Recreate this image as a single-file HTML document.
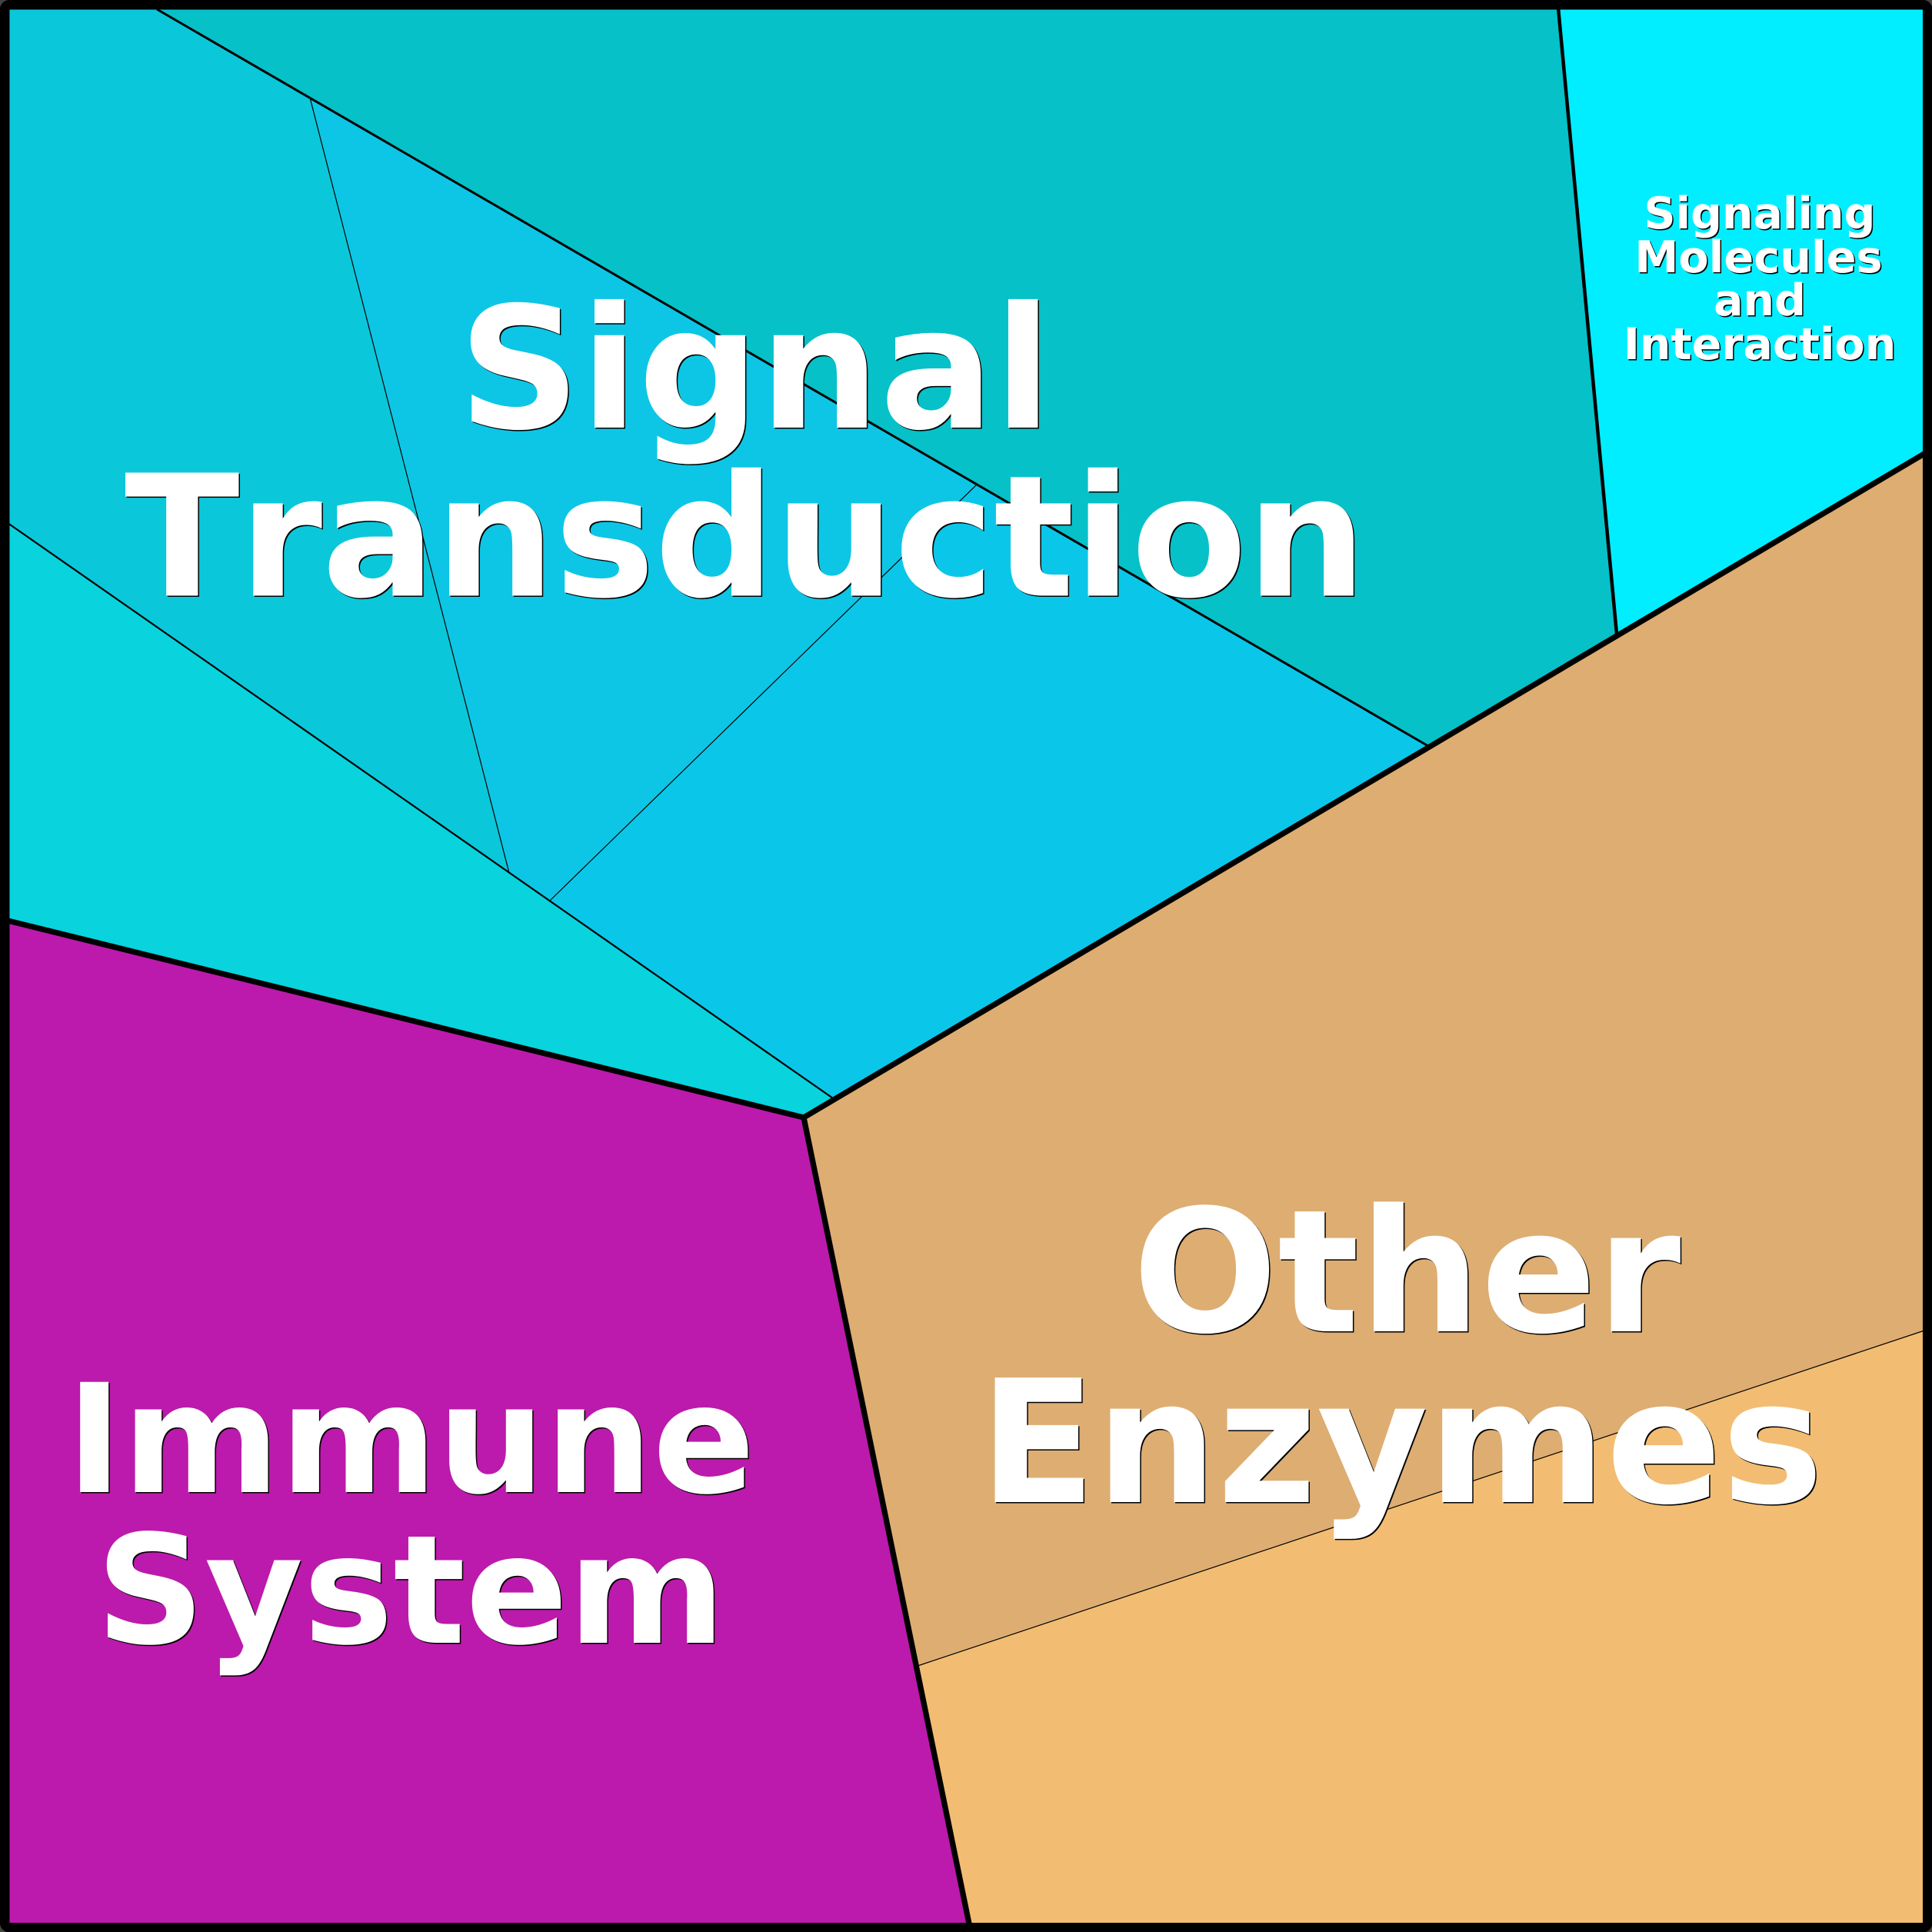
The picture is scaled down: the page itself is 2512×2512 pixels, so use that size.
<!DOCTYPE html>
<html><head><meta charset="utf-8"><style>html,body{margin:0;padding:0;background:#fff}svg{display:block}text{font-kerning:none}</style></head>
<body>
<svg xmlns="http://www.w3.org/2000/svg" width="2512" height="2512" viewBox="0 0 2512 2512">
<rect width="2512" height="2512" fill="#444"/>
<polygon points="12,12 204,12 403,127 662,1135 10,680" fill="#0bc7da"/>
<polygon points="204,12 2026,10 2102,824 1857,970" fill="#06c1c8"/>
<polygon points="403,127 1270,630 715,1171 662,1135" fill="#0dc6e5"/>
<polygon points="1270,630 1857,970 1083,1428 715,1171" fill="#0ac7e9"/>
<polygon points="10,680 1083,1428 1045,1453 10,1197" fill="#09d3dc"/>
<polygon points="2026,10 2502,10 2502,590 2102,824" fill="#00eeff"/>
<polygon points="10,1197 1045,1453 1261,2502 10,2502" fill="#bc1aac"/>
<polygon points="1045,1453 2502,590 2502,1730 1193,2166" fill="#ddad72"/>
<polygon points="1193,2166 2502,1730 2502,2502 1261,2502" fill="#f2bd72"/>
<g fill="none" stroke="#000" stroke-linecap="butt">
<path d="M204,12 L1857,970" stroke-width="3"/>
<path d="M2026,10 L2102,824" stroke-width="4.5"/>
<path d="M10,680 L1083,1428" stroke-width="2.2"/>
<path d="M403,127 L662,1135" stroke-width="1.2"/>
<path d="M1270,630 L715,1171" stroke-width="1.2"/>
<path d="M1193,2166 L2502,1730" stroke-width="1.2"/>
<path d="M10,1197 L1045,1453 L1261,2506 M1045,1453 L2506,587.5" stroke-width="7.3" stroke-linejoin="round"/>
</g>
<rect x="6.2" y="6.2" width="2500" height="2500" rx="6" fill="none" stroke="#000" stroke-width="12.5"/>
<g font-family="'DejaVu Sans',sans-serif" font-weight="700" text-anchor="middle">
<g fill="#000" transform="translate(1.5,1.5)">
<text x="982" y="556" font-size="220">Signal</text>
<text x="969" y="774.5" font-size="219.5" letter-spacing="-0.8">Transduction</text>
<text x="1829" y="1731" font-size="222">Other</text>
<text x="1822" y="1953" font-size="222">Enzymes</text>
<text x="534" y="1940" font-size="196.5">Immune</text>
<text x="534" y="2136" font-size="196.5">System</text>
<text x="2288" y="297" font-size="57">Signaling</text>
<text x="2286.5" y="354" font-size="57.3">Molecules</text>
<text x="2288" y="410" font-size="57">and</text>
<text x="2288" y="467" font-size="57">Interaction</text>
</g>
<g fill="#fff">
<text x="982" y="556" font-size="220">Signal</text>
<text x="969" y="774.5" font-size="219.5" letter-spacing="-0.8">Transduction</text>
<text x="1829" y="1731" font-size="222">Other</text>
<text x="1822" y="1953" font-size="222">Enzymes</text>
<text x="534" y="1940" font-size="196.5">Immune</text>
<text x="534" y="2136" font-size="196.5">System</text>
<text x="2288" y="297" font-size="57">Signaling</text>
<text x="2286.5" y="354" font-size="57.3">Molecules</text>
<text x="2288" y="410" font-size="57">and</text>
<text x="2288" y="467" font-size="57">Interaction</text>
</g>
</g>
</svg>
</body></html>
